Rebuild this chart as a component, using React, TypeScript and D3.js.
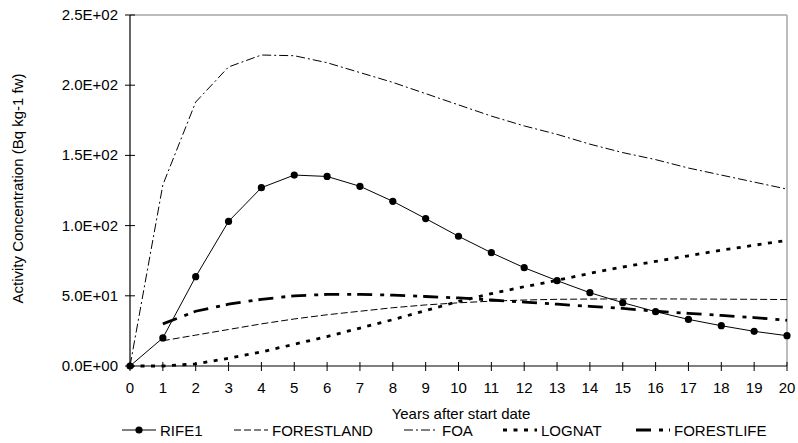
import React from "react";
import * as d3 from "d3";

const years = d3.range(0, 21);
const rife1 = [0, 20, 63.6, 103, 127, 136, 135, 128, 117.3, 105, 92.4, 80.7, 70, 60.8, 52.2, 45.1, 38.7, 33.2, 28.7, 24.7, 21.6];
const forestland = [null, 18, 22, 26, 30, 33.5, 36.5, 39, 41.5, 43.5, 45, 46.2, 47, 47.5, 47.7, 47.8, 47.8, 47.7, 47.6, 47.5, 47.3];
const foa = [0, 129, 188, 213, 221.5, 221, 216, 209, 202, 194, 186, 178, 171, 165, 158, 152, 147, 141, 136, 131, 126];
const lognat = [0, 0, 1.5, 5.5, 10, 15.5, 21, 27, 33, 39.5, 46, 51.5, 56.5, 61, 66, 70.5, 74.5, 78.5, 82.5, 86, 89.5];
const forestlife = [null, 30, 39, 44, 47.5, 50, 51, 51, 50.5, 49.5, 48.5, 47, 45.5, 44, 42.5, 41, 39, 37.5, 36, 34.5, 32.5];
const yTicks = [0, 50, 100, 150, 200, 250];
const yTickLabels = ["0.0E+00", "5.0E+01", "1.0E+02", "1.5E+02", "2.0E+02", "2.5E+02"];

type SeriesDef = {
  name: string;
  values: (number | null)[];
  width: number;
  dash: string | null;
  markers: boolean;
  legendX: number;
};

const series: SeriesDef[] = [
  { name: "RIFE1", values: rife1, width: 1, dash: null, markers: true, legendX: 122 },
  { name: "FORESTLAND", values: forestland, width: 1, dash: "7,3", markers: false, legendX: 234 },
  { name: "FOA", values: foa, width: 1, dash: "9,3,2,3", markers: false, legendX: 404 },
  { name: "LOGNAT", values: lognat, width: 2.8, dash: "4,6.5", markers: false, legendX: 503 },
  { name: "FORESTLIFE", values: forestlife, width: 2.8, dash: "15,8,4,6", markers: false, legendX: 636 },
];

const W = 798;
const H = 443;
const left = 130;
const right = 787;
const top = 15;
const bottom = 366;
const font = "Liberation Sans, Arial, sans-serif";

export default function App() {
  const x = d3.scaleLinear().domain([0, 20]).range([left, right]);
  const y = d3.scaleLinear().domain([0, 250]).range([bottom, top]);

  const line = d3
    .line<number | null>()
    .defined((d) => d !== null)
    .x((_, i) => x(years[i]))
    .y((d) => y(d as number));

  return (
    <svg width={W} height={H} style={{ position: "absolute", left: 0, top: 0 }} fontFamily={font}>
      <rect x={0} y={0} width={W} height={H} fill="#fff" />
      {/* plot frame: gray top and right edges */}
      <line x1={left} y1={top} x2={right} y2={top} stroke="#a6a6a6" strokeWidth={1.5} />
      <line x1={right} y1={top} x2={right} y2={bottom} stroke="#a6a6a6" strokeWidth={1.5} />

      {/* series */}
      {series.map((s) => (
        <g key={s.name}>
          <path
            d={line(s.values) || ""}
            fill="none"
            stroke="#000"
            strokeWidth={s.width}
            strokeDasharray={s.dash || undefined}
          />
          {s.markers &&
            s.values.map((v, i) =>
              v === null ? null : <circle key={i} cx={x(years[i])} cy={y(v)} r={3.6} fill="#000" />
            )}
        </g>
      ))}

      {/* y axis */}
      <line x1={left} y1={top} x2={left} y2={bottom} stroke="#000" strokeWidth={1.2} />
      {yTicks.map((t, i) => (
        <g key={t}>
          <line x1={left - 5} x2={left + 5} y1={y(t)} y2={y(t)} stroke="#000" strokeWidth={1} />
          <text x={118} y={y(t) + 5} textAnchor="end" fontSize={15} fill="#000">
            {yTickLabels[i]}
          </text>
        </g>
      ))}

      {/* x axis */}
      <line x1={left} y1={bottom} x2={right} y2={bottom} stroke="#000" strokeWidth={1.2} />
      {years.map((t) => (
        <g key={t}>
          <line x1={x(t)} x2={x(t)} y1={bottom - 4} y2={bottom + 5} stroke="#000" strokeWidth={1} />
          <text x={x(t)} y={393} textAnchor="middle" fontSize={15} fill="#000">
            {t}
          </text>
        </g>
      ))}

      <text x={461} y={419} textAnchor="middle" fontSize={15} fill="#000">
        Years after start date
      </text>
      <text
        transform={`translate(23, ${(top + bottom) / 2 - 2}) rotate(-90)`}
        textAnchor="middle"
        fontSize={15}
        fill="#000"
      >
        Activity Concentration (Bq kg-1 fw)
      </text>

      {/* legend */}
      {series.map((s) => (
        <g key={`lg-${s.name}`}>
          <line
            x1={s.legendX}
            x2={s.legendX + 34}
            y1={430}
            y2={430}
            stroke="#000"
            strokeWidth={s.width}
            strokeDasharray={s.dash || undefined}
          />
          {s.markers && <circle cx={s.legendX + 17} cy={430} r={3.6} fill="#000" />}
          <text x={s.legendX + 38} y={436} fontSize={15} fill="#000">
            {s.name}
          </text>
        </g>
      ))}
    </svg>
  );
}
